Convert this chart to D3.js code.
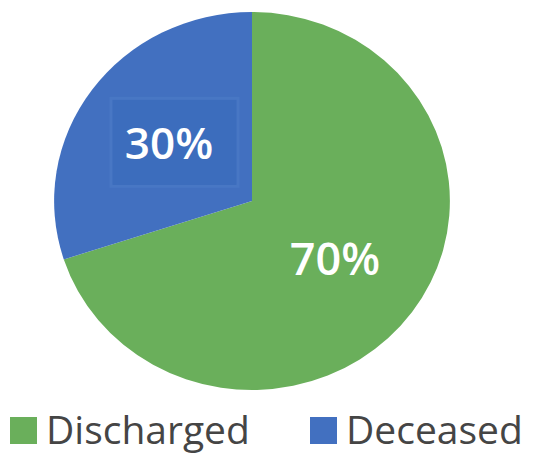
<!DOCTYPE html>
<html>
<head>
<meta charset="utf-8">
<script src="https://cdn.jsdelivr.net/npm/d3@7"></script>
<style>
  body { margin: 0; background: #fff; }
  svg { display: block; }
</style>
</head>
<body>
<svg id="chart"></svg>
<script>
// chart data
const categories = ['Discharged', 'Deceased'];
const values = [70, 30];
const labels = ['70%', '30%'];

const width = 538;
const height = 456;
const cx = 252, cy = 201;
const radius = 189;
const stretchX = 1.047; // picture is a bit wider than tall

const color = d3.scaleOrdinal()
  .domain(categories)
  .range(['#6aaf5b', '#4270c0']);

const svg = d3.select('#chart')
  .attr('width', width)
  .attr('height', height);

const pie = d3.pie().sort(null).value(d => d.value);
const arcs = pie(categories.map((c, i) => ({ name: c, value: values[i], label: labels[i] })));

const arc = d3.arc().innerRadius(0).outerRadius(radius);
const labelArc = d3.arc().innerRadius(98).outerRadius(98);

const g = svg.append('g')
  .attr('transform', `translate(${cx},${cy}) scale(${stretchX},1)`);

g.selectAll('path')
  .data(arcs)
  .enter().append('path')
  .attr('d', arc)
  .attr('fill', d => color(d.data.name));

// labels sit outside the stretched group so the text is not distorted
const lab = svg.append('g').attr('transform', `translate(${cx},${cy})`);

arcs.forEach(d => {
  const [x, y] = labelArc.centroid(d);
  const fs = d.data.name === 'Deceased' ? 44 : 45;
  if (d.data.name === 'Deceased') {
    // faint data-label box behind the 30%
    lab.append('rect')
      .attr('x', x * stretchX - 58)
      .attr('y', y - 45)
      .attr('width', 127)
      .attr('height', 88)
      .attr('fill', '#3c6dbd')
      .attr('stroke', '#4877c4')
      .attr('stroke-width', 3);
  }
  lab.append('text')
    .attr('x', x * stretchX)
    .attr('y', y)
    .attr('dy', '0.36em')
    .attr('text-anchor', 'middle')
    .style('font-family', '"Open Sans", sans-serif')
    .style('font-weight', 600)
    .style('font-size', fs + 'px')
    .style('fill', '#ffffff')
    .text(d.data.label);
});

// legend
const legendX = [10, 310];
const legend = svg.selectAll('.legend')
  .data(categories)
  .enter().append('g')
  .attr('class', 'legend')
  .attr('transform', (d, i) => `translate(${legendX[i]},417)`);

legend.append('rect')
  .attr('width', 27)
  .attr('height', 27)
  .attr('fill', d => color(d));

legend.append('text')
  .attr('x', 36)
  .attr('y', 27)
  .style('font-family', '"Open Sans", sans-serif')
  .style('font-size', '39px')
  .style('fill', '#454545')
  .text(d => d);
</script>
</body>
</html>
